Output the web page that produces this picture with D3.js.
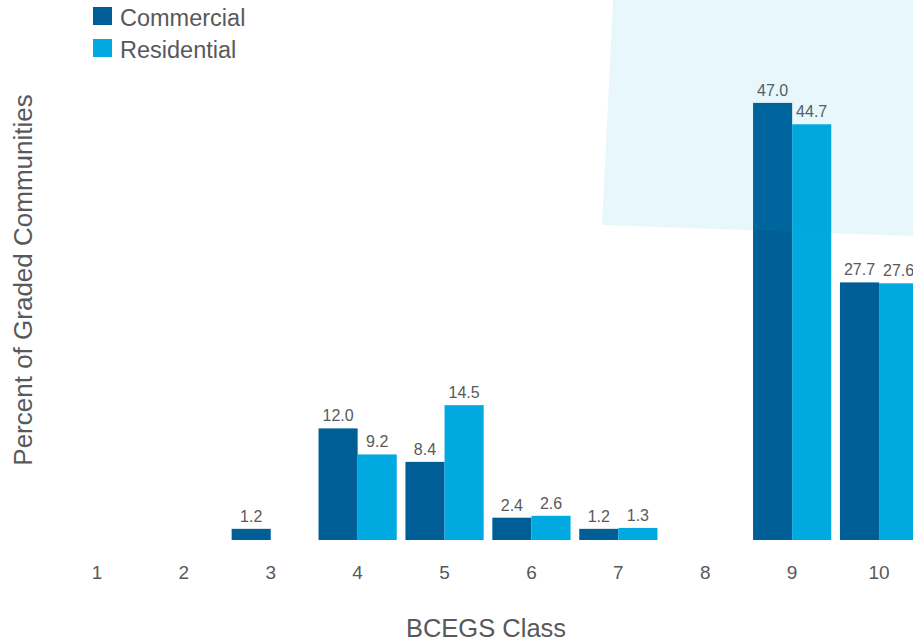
<!DOCTYPE html>
<html>
<head>
<meta charset="utf-8">
<script src="https://cdn.jsdelivr.net/npm/d3@7/dist/d3.min.js"></script>
<style>
  body { margin: 0; background: #fff; }
  text { font-family: "Liberation Sans", Arial, sans-serif; fill: #58595b; }
</style>
</head>
<body>
<div id="chart"></div>
<script>
const classes = ["1", "2", "3", "4", "5", "6", "7", "8", "9", "10"];
const commercial = [null, null, 1.2, 12.0, 8.4, 2.4, 1.2, null, 47.0, 27.7];
const residential = [null, null, null, 9.2, 14.5, 2.6, 1.3, null, 44.7, 27.6];
const seriesNames = ["Commercial", "Residential"];
const seriesColors = ["#005e97", "#00a9df"];

const width = 913, height = 643;
const svg = d3.select("#chart").append("svg")
    .attr("width", width)
    .attr("height", height);

// scales
const x = d3.scaleBand()
    .domain(classes)
    .range([53.5, 922.5])
    .paddingInner(0.1)
    .paddingOuter(0.05);

const y = d3.scaleLinear()
    .domain([0, 50])
    .range([540, 75]);

const x1 = d3.scaleBand()
    .domain(seriesNames)
    .range([0, x.bandwidth()]);

// bars
const rows = classes.map((c, i) => ({cls: c, values: [commercial[i], residential[i]]}));

const groups = svg.append("g").selectAll("g")
    .data(rows)
    .join("g")
    .attr("transform", d => "translate(" + x(d.cls) + ",0)");

groups.selectAll("rect")
    .data(d => d.values.map((v, j) => ({v: v, s: seriesNames[j], j: j})).filter(e => e.v != null))
    .join("rect")
    .attr("x", d => x1(d.s))
    .attr("y", d => y(d.v))
    .attr("width", x1.bandwidth())
    .attr("height", d => y(0) - y(d.v))
    .attr("fill", d => seriesColors[d.j]);

groups.selectAll("text")
    .data(d => d.values.map((v, j) => ({v: v, s: seriesNames[j]})).filter(e => e.v != null))
    .join("text")
    .attr("x", d => x1(d.s) + x1.bandwidth() / 2)
    .attr("y", d => y(d.v) - 7)
    .attr("text-anchor", "middle")
    .style("font-size", "16px")
    .text(d => d.v.toFixed(1));

// light background panel drawn over the top right
svg.append("polygon")
    .attr("points", "613,0 913,0 913,236 602,225")
    .attr("fill", "#00a3da")
    .attr("opacity", 0.09);

// x axis labels
const xAxis = svg.append("g")
    .attr("transform", "translate(0," + 579 + ")")
    .call(d3.axisBottom(x).tickSize(0).tickPadding(0));
xAxis.select(".domain").remove();
xAxis.selectAll("text")
    .attr("dy", 0)
    .attr("y", 0)
    .style("font-size", "19px")
    .style("fill", "#58595b");

// axis titles
svg.append("text")
    .attr("x", 486)
    .attr("y", 637)
    .attr("text-anchor", "middle")
    .style("font-size", "25.5px")
    .text("BCEGS Class");

svg.append("text")
    .attr("transform", "translate(32,280) rotate(-90)")
    .attr("text-anchor", "middle")
    .style("font-size", "26px")
    .text("Percent of Graded Communities");

// legend
const legend = svg.append("g")
    .selectAll("g")
    .data(seriesNames)
    .join("g")
    .attr("transform", (d, i) => "translate(93," + (7 + i * 32) + ")");

legend.append("rect")
    .attr("width", 19)
    .attr("height", 18)
    .attr("fill", (d, i) => seriesColors[i]);

legend.append("text")
    .attr("x", 27)
    .attr("y", 19)
    .style("font-size", "23.5px")
    .text(d => d);
</script>
</body>
</html>
